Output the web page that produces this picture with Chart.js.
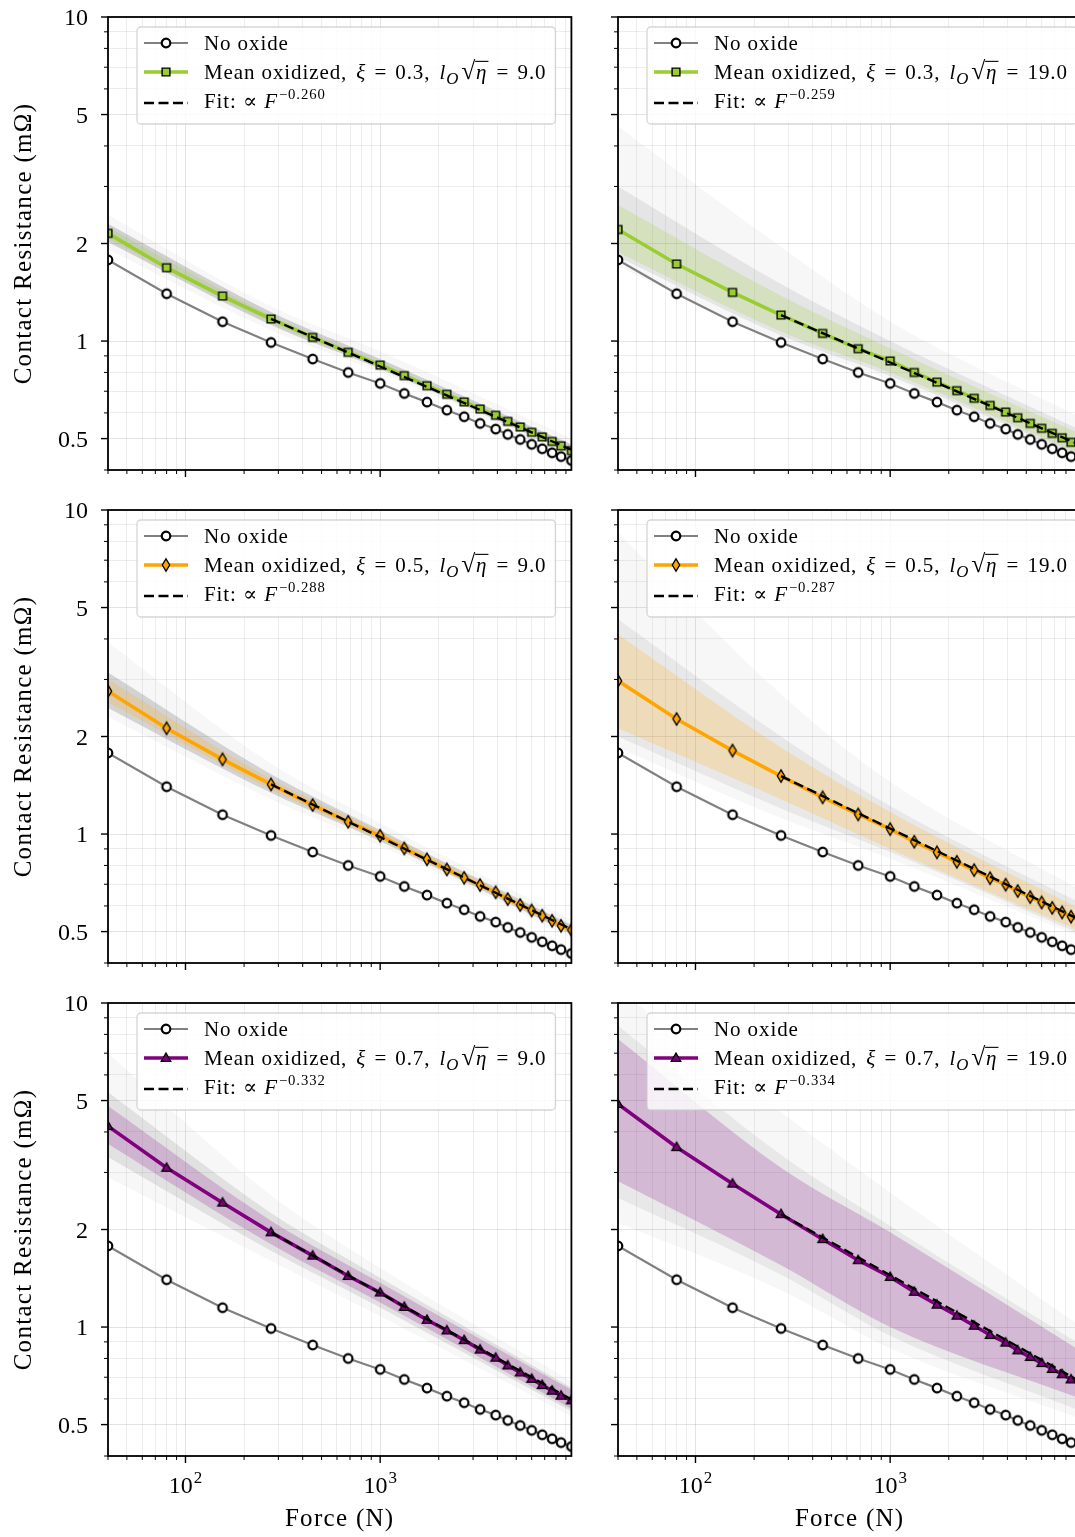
<!DOCTYPE html>
<html lang="en">
<head>
<meta charset="UTF-8">
<title>Contact resistance vs force</title>
<script src="https://cdn.jsdelivr.net/npm/chart.js"></script>
<style>
  html, body { margin: 0; padding: 0; width: 1075px; height: 1537px; overflow: hidden; background: #fff; }
  canvas { position: absolute; }
</style>
</head>
<body>
<script>
// ---- data ----
const force = [40, 80, 155, 275, 450, 685, 1000, 1330, 1740, 2200, 2700, 3260, 3920, 4520, 5240, 6000, 6800, 7640, 8490, 9600];
const rNoOxide = [1.78, 1.40, 1.147, 0.99, 0.88, 0.80, 0.74, 0.689, 0.648, 0.612, 0.584, 0.557, 0.535, 0.515, 0.497, 0.48, 0.465, 0.452, 0.44, 0.428];

const rMean03_9  = [2.15, 1.684, 1.377, 1.17, 1.026, 0.923, 0.843, 0.782, 0.728, 0.685, 0.649, 0.617, 0.590, 0.565, 0.543, 0.523, 0.506, 0.49, 0.475, 0.459];
const rMean03_19 = [2.21, 1.729, 1.413, 1.203, 1.056, 0.947, 0.868, 0.80, 0.747, 0.703, 0.666, 0.633, 0.604, 0.58, 0.557, 0.538, 0.519, 0.503, 0.487, 0.473];
const rMean05_9  = [2.76, 2.12, 1.70, 1.423, 1.229, 1.091, 0.988, 0.903, 0.836, 0.778, 0.733, 0.696, 0.661, 0.630, 0.604, 0.581, 0.560, 0.540, 0.521, 0.506];
const rMean05_19 = [2.97, 2.265, 1.81, 1.51, 1.298, 1.15, 1.036, 0.947, 0.878, 0.821, 0.774, 0.731, 0.698, 0.667, 0.639, 0.615, 0.592, 0.573, 0.556, 0.538];
const rMean07_9  = [4.17, 3.10, 2.42, 1.96, 1.661, 1.437, 1.278, 1.154, 1.052, 0.976, 0.911, 0.852, 0.804, 0.761, 0.724, 0.692, 0.662, 0.636, 0.614, 0.594];
const rMean07_19 = [4.88, 3.59, 2.77, 2.23, 1.867, 1.608, 1.427, 1.284, 1.172, 1.084, 1.009, 0.945, 0.895, 0.847, 0.808, 0.774, 0.742, 0.715, 0.689, 0.671];

const fitForce = [275, 9600];
const rFit03_9  = [1.17, 0.462];
const rFit03_19 = [1.203, 0.476];
const rFit05_9  = [1.423, 0.508];
const rFit05_19 = [1.51, 0.541];
const rFit07_9  = [1.96, 0.598];
const rFit07_19 = [2.23, 0.676];

// spread of the individual samples (outer haze, dense core, mean +- std band)
const bandForce = [40, 275, 1000, 9600];
const outerLo03_9 = [1.92, 1.08, 0.80, 0.44],  outerHi03_9 = [2.45, 1.28, 0.93, 0.50];
const coreLo03_9  = [2.02, 1.12, 0.82, 0.45],  coreHi03_9  = [2.30, 1.23, 0.88, 0.48];
const stdLo03_9   = [2.07, 1.14, 0.83, 0.452], stdHi03_9   = [2.24, 1.20, 0.86, 0.468];
const outerLo03_19 = [1.70, 1.00, 0.76, 0.43], outerHi03_19 = [4.6, 1.95, 1.15, 0.58];
const coreLo03_19  = [1.82, 1.04, 0.78, 0.44], coreHi03_19  = [3.0, 1.50, 1.00, 0.53];
const stdLo03_19   = [1.88, 1.07, 0.80, 0.447], stdHi03_19  = [2.63, 1.38, 0.95, 0.515];
const outerLo05_9 = [2.30, 1.28, 0.92, 0.48],  outerHi05_9 = [3.9, 1.65, 1.08, 0.545];
const coreLo05_9  = [2.45, 1.34, 0.95, 0.49],  coreHi05_9  = [3.15, 1.53, 1.03, 0.525];
const stdLo05_9   = [2.55, 1.37, 0.96, 0.495], stdHi05_9   = [3.0, 1.48, 1.02, 0.518];
const outerLo05_19 = [1.85, 1.12, 0.84, 0.48], outerHi05_19 = [8.5, 2.7, 1.45, 0.67];
const coreLo05_19  = [2.0, 1.2, 0.88, 0.49],   coreHi05_19  = [4.6, 2.0, 1.22, 0.61];
const stdLo05_19   = [2.12, 1.28, 0.90, 0.50], stdHi05_19   = [4.13, 1.85, 1.17, 0.585];
const outerLo07_9 = [2.9, 1.6, 1.08, 0.53],    outerHi07_9 = [7.0, 2.55, 1.52, 0.68];
const coreLo07_9  = [3.35, 1.72, 1.15, 0.55],  coreHi07_9  = [5.3, 2.25, 1.42, 0.65];
const stdLo07_9   = [3.67, 1.80, 1.19, 0.56],  stdHi07_9   = [4.81, 2.13, 1.37, 0.64];
const outerLo07_19 = [2.1, 1.3, 0.86, 0.52],   outerHi07_19 = [11, 4.6, 2.6, 1.0];
const coreLo07_19  = [2.5, 1.45, 0.94, 0.55],  coreHi07_19  = [8.5, 3.4, 2.05, 0.88];
const stdLo07_19   = [2.82, 1.55, 1.0, 0.60],  stdHi07_19   = [7.74, 3.1, 1.96, 0.84];

const xiLabels = ['0.3', '0.5', '0.7'];
const lLabels = ['9.0', '19.0'];
const fitExponents = ['0.260', '0.259', '0.288', '0.287', '0.332', '0.334'];

const xTickVals = [40, 50, 60, 70, 80, 90, 100, 200, 300, 400, 500, 600, 700, 800, 900,
                   1000, 2000, 3000, 4000, 5000, 6000, 7000, 8000, 9000];
const xMajorVals = [100, 1000];
const xMajorText = [['10', '2'], ['10', '3']];
const yTickVals = [0.4, 0.5, 0.6, 0.7, 0.8, 0.9, 1, 2, 3, 4, 5, 6, 7, 8, 9, 10];
const yMajorVals = [0.5, 1, 2, 5, 10];
const yMajorText = ['0.5', '1', '2', '5', '10'];

// ---- styling ----
const SERIF = '"Liberation Serif", "DejaVu Serif", serif';

function marker(w, h, paint) {
  const c = document.createElement('canvas');
  c.width = w; c.height = h;
  paint(c.getContext('2d'), w / 2, h / 2);
  return c;
}
function poly(g, pts, fill, lw) {
  g.beginPath();
  pts.forEach((p, i) => i ? g.lineTo(p[0], p[1]) : g.moveTo(p[0], p[1]));
  g.closePath();
  g.fillStyle = fill; g.fill();
  g.lineWidth = lw; g.strokeStyle = '#000'; g.lineJoin = 'miter'; g.stroke();
}
const mkCircle = marker(14, 14, (g, cx, cy) => {
  g.beginPath(); g.arc(cx, cy, 4.3, 0, 2 * Math.PI);
  g.fillStyle = '#fff'; g.fill(); g.lineWidth = 2.2; g.strokeStyle = '#000'; g.stroke();
});
const mkSquare = f => marker(12, 12, (g, cx, cy) =>
  poly(g, [[cx - 3.9, cy - 3.9], [cx + 3.9, cy - 3.9], [cx + 3.9, cy + 3.9], [cx - 3.9, cy + 3.9]], f, 1.4));
const mkDiamond = f => marker(12, 16, (g, cx, cy) =>
  poly(g, [[cx, cy - 6.2], [cx + 3.7, cy], [cx, cy + 6.2], [cx - 3.7, cy]], f, 1.3));
const mkTriangle = f => marker(14, 14, (g, cx, cy) =>
  poly(g, [[cx, cy - 5.0], [cx + 4.8, cy + 3.4], [cx - 4.8, cy + 3.4]], f, 1.3));

const GREEN = '#9acd32', ORANGE = '#ffa500', PURPLE = '#800080';

const panels = [
  { mean: rMean03_9,  fit: rFit03_9,  xi: 0, l: 0, color: GREEN,  mk: mkSquare(GREEN),    std: 'rgba(154,205,50,0.22)', core: 0.30,
    bands: [outerLo03_9, outerHi03_9, coreLo03_9, coreHi03_9, stdLo03_9, stdHi03_9] },
  { mean: rMean03_19, fit: rFit03_19, xi: 0, l: 1, color: GREEN,  mk: mkSquare(GREEN),    std: 'rgba(154,205,50,0.22)', core: 0.14,
    bands: [outerLo03_19, outerHi03_19, coreLo03_19, coreHi03_19, stdLo03_19, stdHi03_19] },
  { mean: rMean05_9,  fit: rFit05_9,  xi: 1, l: 0, color: ORANGE, mk: mkDiamond(ORANGE),  std: 'rgba(255,165,0,0.20)', core: 0.28,
    bands: [outerLo05_9, outerHi05_9, coreLo05_9, coreHi05_9, stdLo05_9, stdHi05_9] },
  { mean: rMean05_19, fit: rFit05_19, xi: 1, l: 1, color: ORANGE, mk: mkDiamond(ORANGE),  std: 'rgba(255,165,0,0.20)', core: 0.12,
    bands: [outerLo05_19, outerHi05_19, coreLo05_19, coreHi05_19, stdLo05_19, stdHi05_19] },
  { mean: rMean07_9,  fit: rFit07_9,  xi: 2, l: 0, color: PURPLE, mk: mkTriangle(PURPLE), std: 'rgba(128,0,128,0.20)', core: 0.18,
    bands: [outerLo07_9, outerHi07_9, coreLo07_9, coreHi07_9, stdLo07_9, stdHi07_9] },
  { mean: rMean07_19, fit: rFit07_19, xi: 2, l: 1, color: PURPLE, mk: mkTriangle(PURPLE), std: 'rgba(128,0,128,0.20)', core: 0.11,
    bands: [outerLo07_19, outerHi07_19, coreLo07_19, coreHi07_19, stdLo07_19, stdHi07_19] }
];

function pts(xs, ys) { return xs.map((x, i) => ({ x, y: ys[i] })); }

function bandSets(lo, hi, color, ord) {
  const base = { borderWidth: 0, borderColor: 'rgba(0,0,0,0)', pointRadius: 0,
                 cubicInterpolationMode: 'monotone', clip: 0 };
  return [
    Object.assign({ data: pts(bandForce, lo), fill: false, order: ord + 1 }, base),
    Object.assign({ data: pts(bandForce, hi), fill: '-1', backgroundColor: color, order: ord }, base)
  ];
}

function seg(ctx, x0, y0, x1, y1, lw) {
  ctx.lineWidth = lw;
  ctx.beginPath(); ctx.moveTo(x0, y0); ctx.lineTo(x1, y1); ctx.stroke();
}

// draws text made of upright / italic / shifted pieces, returns end x
function rich(ctx, x, y, parts, size, draw) {
  ctx.letterSpacing = '0.9px';
  for (const p of parts) {
    const s = size * (p.s || 1);
    ctx.font = (p.it ? 'italic ' : '') + s + 'px ' + SERIF;
    x += p.dx || 0;
    const w = ctx.measureText(p.t).width;
    if (draw) {
      ctx.fillText(p.t, x, y + (p.dy || 0));
      if (p.over) seg(ctx, x - 1, y - 0.84 * size, x + w + 1, y - 0.84 * size, 1.1);
    }
    x += w + (p.ax || 0);
  }
  ctx.letterSpacing = '0px';
  return x;
}

function drawLegend(ctx, a, p, idx) {
  const size = 21;
  const x0 = a.left + 29, y0 = a.top + 10, h = 97;
  const rows = [a.top + 26, a.top + 55, a.top + 86];
  const tx = a.left + 96;
  const meanParts = [
    { t: 'Mean oxidized, ' }, { t: 'ξ', it: 1, dx: 3 }, { t: ' = ', dx: 2, ax: 2 }, { t: xiLabels[p.xi] + ',' },
    { t: 'l', it: 1, dx: 9 }, { t: 'O', it: 1, s: 0.8, dy: 5 }, { t: '√', dx: 2, s: 1.22 },
    { t: 'η', it: 1, over: 1, ax: 1 }, { t: ' = ', dx: 2, ax: 2 }, { t: lLabels[p.l] }
  ];
  const fitParts = [{ t: 'Fit: ∝ ' }, { t: 'F', it: 1 }, { t: '−' + fitExponents[idx], s: 0.7, dy: -9, dx: 1 }];
  const end = rich(ctx, tx, 0, meanParts, size, false);
  const w = end + 9 - x0, r = 4;

  ctx.beginPath();
  ctx.moveTo(x0 + r, y0); ctx.lineTo(x0 + w - r, y0); ctx.arcTo(x0 + w, y0, x0 + w, y0 + r, r);
  ctx.lineTo(x0 + w, y0 + h - r); ctx.arcTo(x0 + w, y0 + h, x0 + w - r, y0 + h, r);
  ctx.lineTo(x0 + r, y0 + h); ctx.arcTo(x0, y0 + h, x0, y0 + h - r, r);
  ctx.lineTo(x0, y0 + r); ctx.arcTo(x0, y0, x0 + r, y0, r); ctx.closePath();
  ctx.fillStyle = 'rgba(255,255,255,0.8)'; ctx.fill();
  ctx.strokeStyle = 'rgba(204,204,204,0.8)'; ctx.lineWidth = 1.3; ctx.stroke();

  const sx0 = a.left + 36, sx1 = a.left + 80, sm = a.left + 58;
  ctx.strokeStyle = '#808080'; seg(ctx, sx0, rows[0], sx1, rows[0], 2.2);
  ctx.drawImage(mkCircle, sm - mkCircle.width / 2, rows[0] - mkCircle.height / 2);
  ctx.strokeStyle = p.color; seg(ctx, sx0, rows[1], sx1, rows[1], 3.6);
  ctx.drawImage(p.mk, sm - p.mk.width / 2, rows[1] - p.mk.height / 2);
  ctx.strokeStyle = '#000'; ctx.setLineDash([10, 4.5]); seg(ctx, sx0, rows[2], sx1, rows[2], 2.4); ctx.setLineDash([]);

  ctx.fillStyle = '#000';
  rich(ctx, tx, rows[0] + 7, [{ t: 'No oxide' }], size, true);
  rich(ctx, tx, rows[1] + 7, meanParts, size, true);
  rich(ctx, tx, rows[2] + 5, fitParts, size, true);
}

function decor(p, idx, row, col) {
  return {
    id: 'decor' + idx,
    afterDraw(chart) {
      const ctx = chart.ctx, a = chart.chartArea, xs = chart.scales.x, ys = chart.scales.y;
      ctx.save();
      ctx.strokeStyle = '#000';
      for (const v of yTickVals) {
        const y = ys.getPixelForValue(v), maj = yMajorVals.includes(v);
        seg(ctx, a.left - (maj ? 7 : 4), y, a.left, y, maj ? 1.4 : 1.0);
      }
      for (const v of xTickVals) {
        const x = xs.getPixelForValue(v), maj = xMajorVals.includes(v);
        seg(ctx, x, a.bottom, x, a.bottom + (maj ? 7 : 4), maj ? 1.4 : 1.0);
      }
      ctx.lineWidth = 1.8;
      ctx.strokeRect(a.left, a.top, a.right - a.left, a.bottom - a.top);

      ctx.fillStyle = '#000';
      if (col === 0) {
        ctx.font = '24px ' + SERIF; ctx.textAlign = 'right';
        yMajorVals.forEach((v, i) => ctx.fillText(yMajorText[i], a.left - 20, ys.getPixelForValue(v) + 8));
        ctx.save();
        ctx.translate(31, (a.top + a.bottom) / 2); ctx.rotate(-Math.PI / 2);
        ctx.font = '25px ' + SERIF; ctx.letterSpacing = '1.3px'; ctx.textAlign = 'center';
        ctx.fillText('Contact Resistance (mΩ)', 0, 0);
        ctx.restore();
      }
      if (row === 2) {
        ctx.textAlign = 'left';
        xMajorVals.forEach((v, i) => {
          const x = xs.getPixelForValue(v);
          ctx.font = '24px ' + SERIF; const w1 = ctx.measureText(xMajorText[i][0]).width;
          ctx.font = '17px ' + SERIF; const w2 = ctx.measureText(xMajorText[i][1]).width;
          const x0 = x - (w1 + w2 + 1) / 2;
          ctx.font = '24px ' + SERIF; ctx.fillText(xMajorText[i][0], x0, a.bottom + 37);
          ctx.font = '17px ' + SERIF; ctx.fillText(xMajorText[i][1], x0 + w1 + 1, a.bottom + 27);
        });
        ctx.font = '25px ' + SERIF; ctx.letterSpacing = '1.3px'; ctx.textAlign = 'center';
        ctx.fillText('Force (N)', (a.left + a.right) / 2, a.bottom + 70);
        ctx.letterSpacing = '0px';
      }
      ctx.textAlign = 'left';
      drawLegend(ctx, a, p, idx);
      ctx.restore();
    }
  };
}

const gridColor = c => (c.tick && (yMajorVals.includes(c.tick.value) || xMajorVals.includes(c.tick.value)))
  ? 'rgba(0,0,0,0.11)' : 'rgba(0,0,0,0.07)';

panels.forEach((p, idx) => {
  const row = Math.floor(idx / 2), col = idx % 2;
  const left = col ? 600 : 0, width = col ? 490 : 580;
  const top = row * 493, height = row === 2 ? 551 : 493;
  const c = document.createElement('canvas');
  c.width = width; c.height = height;
  Object.assign(c.style, { left: left + 'px', top: top + 'px', width: width + 'px', height: height + 'px' });
  document.body.appendChild(c);

  const b = p.bands;
  const datasets = [
    ...bandSets(b[0], b[1], 'rgba(140,140,140,0.07)', 10),
    ...bandSets(b[2], b[3], 'rgba(120,120,120,' + p.core + ')', 8),
    ...bandSets(b[4], b[5], p.std, 6),
    { data: pts(force, rNoOxide), borderColor: '#808080', borderWidth: 2.2, pointStyle: mkCircle,
      pointRadius: 5, tension: 0, fill: false, order: 3, clip: 0 },
    { data: pts(force, p.mean), borderColor: p.color, borderWidth: 3.6, pointStyle: p.mk,
      pointRadius: 5, tension: 0, fill: false, order: 2, clip: 0 },
    { data: pts(fitForce, p.fit), borderColor: '#000', borderWidth: 2.4, borderDash: [10, 4.5],
      pointRadius: 0, tension: 0, fill: false, order: 1, clip: 0 }
  ];

  new Chart(c, {
    type: 'line',
    data: { datasets },
    options: {
      responsive: false, animation: false, devicePixelRatio: 1, events: [],
      layout: { padding: { top: 17, right: 7, left: 0, bottom: 0 } },
      plugins: { legend: { display: false }, tooltip: { enabled: false } },
      scales: {
        x: {
          type: 'logarithmic', min: 40, max: 9600,
          ticks: { display: false }, border: { display: false },
          grid: { drawTicks: false, color: gridColor, lineWidth: 1 },
          afterBuildTicks: ax => { ax.ticks = xTickVals.map(v => ({ value: v })); },
          afterFit: ax => { ax.height = row === 2 ? 81 : 23; }
        },
        y: {
          type: 'logarithmic', min: 0.4, max: 10,
          ticks: { display: false }, border: { display: false },
          grid: { drawTicks: false, color: gridColor, lineWidth: 1 },
          afterBuildTicks: ax => { ax.ticks = yTickVals.map(v => ({ value: v })); },
          afterFit: ax => { ax.width = col ? 18 : 108; }
        }
      }
    },
    plugins: [decor(p, idx, row, col)]
  });
});
</script>
</body>
</html>
